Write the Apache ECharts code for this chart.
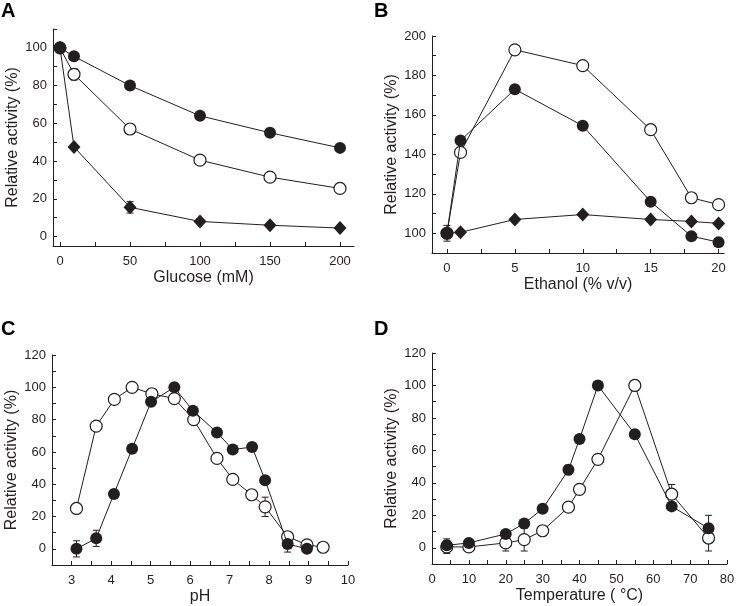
<!DOCTYPE html>
<html><head><meta charset="utf-8">
<script src="https://cdn.jsdelivr.net/npm/echarts@6/dist/echarts.min.js"></script>
<style>html,body{margin:0;padding:0;background:#fff}#c{width:742px;height:606px}</style>
</head><body><div id="c"></div>
<script>
// ---- Panel A: Glucose ----
const glucoseX = [0, 10, 50, 100, 150, 200];
const glucoseFilled = [100, 95.5, 80, 64, 55, 47];
const glucoseOpen = [100, 86, 57, 40.5, 31.5, 25.5];
const glucoseDiamond = [100, 47.5, 15.5, 8, 6, 4.5];
const glucoseOpenErr = [0, 3, 0, 0, 0, 0];
const glucoseDiamondErr = [0, 0, 3, 0, 0, 0];
const glucoseXTicks = [0, 50, 100, 150, 200];
const glucoseYTicks = [0, 20, 40, 60, 80, 100];

// ---- Panel B: Ethanol ----
const ethanolX = [0, 1, 5, 10, 15, 18, 20];
const ethanolOpen = [100, 141, 193, 185, 152.5, 118, 114.5];
const ethanolFilled = [100, 147, 173, 154.5, 116, 98.5, 95.5];
const ethanolDiamond = [100, 100.5, 107, 109.5, 107, 106, 105];
const ethanolFilledErr = [4, 0, 0, 0, 0, 0, 0];
const ethanolXTicks = [0, 5, 10, 15, 20];
const ethanolYTicks = [100, 120, 140, 160, 180, 200];

// ---- Panel C: pH ----
const phOpenX = [3.12, 3.62, 4.08, 4.53, 5.03, 5.6, 6.09, 6.68, 7.08, 7.56, 7.9, 8.47, 8.96, 9.37];
const phOpen = [25, 76, 92.5, 100, 96, 93, 80, 56, 43, 33.5, 26, 7.5, 2.5, 1];
const phOpenErr = [0, 0, 0, 0, 0, 0, 0, 0, 0, 0, 6, 0, 0, 0];
const phFilledX = [3.12, 3.62, 4.07, 4.53, 5.01, 5.6, 6.07, 6.68, 7.08, 7.57, 7.9, 8.47, 8.96];
const phFilled = [0, 6.5, 34, 62, 91, 100, 85.5, 72, 61.5, 63, 42.5, 3, 0];
const phFilledErr = [5, 5, 0, 0, 0, 0, 0, 0, 0, 0, 0, 5, 0];
const phXTicks = [3, 4, 5, 6, 7, 8, 9, 10];
const phYTicks = [0, 20, 40, 60, 80, 100, 120];

// ---- Panel D: Temperature ----
const tempX = [4, 10, 20, 25, 30, 37, 40, 45, 55, 65, 75];
const tempFilled = [1.5, 3, 8.5, 15, 24, 48, 67, 100, 70, 25.5, 12];
const tempOpen = [0.5, 0.5, 3, 5, 10.5, 25, 36, 54.5, 100, 33, 6];
const tempFilledErr = [4, 0, 0, 0, 0, 3, 0, 0, 2, 0, 8];
const tempOpenErr = [4, 0, 5, 7, 0, 0, 0, 0, 0, 6, 8];
const tempXTicks = [0, 10, 20, 30, 40, 50, 60, 70, 80];
const tempYTicks = [0, 20, 40, 60, 80, 100, 120];

const FONT = 'Liberation Sans, Arial, sans-serif';
const TXT = '#231f20';

function minorsOf(ticks, lo, hi) {
  const step = ticks[1] - ticks[0];
  const out = [];
  for (let v = ticks[0] - step / 2; v <= hi + 1e-9; v += step / 2) {
    if (v >= lo - 1e-9) out.push(+v.toFixed(6));
  }
  return out;
}

function xAxisCfg(gi, min, max, ticks, name) {
  return {
    type: 'value', gridIndex: gi, min: min, max: max,
    name: name, nameLocation: 'middle', nameGap: 24,
    nameTextStyle: {fontFamily: FONT, fontSize: 16, color: TXT},
    axisLine: {show: true, onZero: false, lineStyle: {color: '#231f20', width: 1}},
    axisTick: {show: true, inside: true, length: 4, customValues: minorsOf(ticks, min, max), lineStyle: {color: '#231f20'}},
    axisLabel: {customValues: ticks, fontFamily: FONT, fontSize: 13, color: TXT, margin: 9},
    splitLine: {show: false}
  };
}
function yAxisCfg(gi, min, max, ticks, name) {
  return {
    type: 'value', gridIndex: gi, min: min, max: max,
    name: name, nameLocation: 'middle', nameGap: 32,
    nameTextStyle: {fontFamily: FONT, fontSize: 16, color: TXT},
    axisLine: {show: true, onZero: false, lineStyle: {color: '#231f20', width: 1}},
    axisTick: {show: true, inside: true, length: 4, customValues: minorsOf(ticks, min, max), lineStyle: {color: '#231f20'}},
    axisLabel: {customValues: ticks, fontFamily: FONT, fontSize: 13, color: TXT, margin: 6},
    splitLine: {show: false}
  };
}

function zip(xs, ys) { return xs.map((x, i) => [x, ys[i]]); }
function zip3(xs, ys, es) { return xs.map((x, i) => [x, ys[i], es[i]]).filter(d => d[2] > 0); }

function lineSeries(gi, xs, ys, kind) {
  const open = kind === 'open';
  return {
    type: 'line', xAxisIndex: gi, yAxisIndex: gi,
    data: zip(xs, ys),
    symbol: kind === 'diamond' ? 'diamond' : 'circle',
    symbolSize: kind === 'diamond' ? [13, 14] : 12,
    showSymbol: true,
    lineStyle: {color: '#231f20', width: 1},
    itemStyle: {color: open ? '#ffffff' : '#231f20', borderColor: '#231f20', borderWidth: open ? 1.2 : 0, opacity: 1},
    emphasis: {disabled: true},
    z: open ? 3 : 4,
    animation: false
  };
}

function errSeries(gi, xs, ys, es) {
  return {
    type: 'custom', xAxisIndex: gi, yAxisIndex: gi,
    data: zip3(xs, ys, es),
    z: 1, animation: false, silent: true,
    renderItem: function (params, api) {
      const x = api.value(0), y = api.value(1), e = api.value(2);
      const top = api.coord([x, y + e]);
      const bot = api.coord([x, y - e]);
      const w = 3.5;
      const st = {stroke: '#231f20', lineWidth: 1};
      return {
        type: 'group',
        children: [
          {type: 'line', shape: {x1: top[0], y1: top[1], x2: bot[0], y2: bot[1]}, style: st},
          {type: 'line', shape: {x1: top[0] - w, y1: top[1], x2: top[0] + w, y2: top[1]}, style: st},
          {type: 'line', shape: {x1: bot[0] - w, y1: bot[1], x2: bot[0] + w, y2: bot[1]}, style: st}
        ]
      };
    }
  };
}

const chart = echarts.init(document.getElementById('c'), null, {renderer: 'canvas'});
const YNAME = 'Relative activity (%)';
chart.setOption({
  backgroundColor: '#ffffff',
  animation: false,
  grid: [
    {left: 53, top: 29, width: 301, height: 217},
    {left: 432, top: 36, width: 292, height: 217},
    {left: 52, top: 355, width: 296, height: 211},
    {left: 432, top: 353, width: 295, height: 211}
  ],
  xAxis: [
    xAxisCfg(0, -5, 210, glucoseXTicks, 'Glucose (mM)'),
    xAxisCfg(1, -1.1, 20.4, ethanolXTicks, 'Ethanol (% v/v)'),
    xAxisCfg(2, 2.5, 10, phXTicks, 'pH'),
    xAxisCfg(3, 0, 80, tempXTicks, 'Temperature ( °C)')
  ],
  yAxis: [
    yAxisCfg(0, -5, 110, glucoseYTicks, YNAME),
    yAxisCfg(1, 90, 200, ethanolYTicks, YNAME),
    yAxisCfg(2, -10, 120, phYTicks, YNAME),
    yAxisCfg(3, -10, 120, tempYTicks, YNAME)
  ],
  graphic: [
    {type: 'text', left: 1, top: 1, style: {text: 'A', font: 'bold 20px ' + FONT, fill: '#000'}},
    {type: 'text', left: 374, top: 1, style: {text: 'B', font: 'bold 20px ' + FONT, fill: '#000'}},
    {type: 'text', left: 1, top: 319, style: {text: 'C', font: 'bold 20px ' + FONT, fill: '#000'}},
    {type: 'text', left: 374, top: 319, style: {text: 'D', font: 'bold 20px ' + FONT, fill: '#000'}}
  ],
  series: [
    errSeries(0, glucoseX, glucoseOpen, glucoseOpenErr),
    errSeries(0, glucoseX, glucoseDiamond, glucoseDiamondErr),
    lineSeries(0, glucoseX, glucoseDiamond, 'diamond'),
    lineSeries(0, glucoseX, glucoseOpen, 'open'),
    lineSeries(0, glucoseX, glucoseFilled, 'filled'),

    errSeries(1, ethanolX, ethanolFilled, ethanolFilledErr),
    lineSeries(1, ethanolX, ethanolDiamond, 'diamond'),
    lineSeries(1, ethanolX, ethanolOpen, 'open'),
    lineSeries(1, ethanolX, ethanolFilled, 'filled'),

    errSeries(2, phOpenX, phOpen, phOpenErr),
    errSeries(2, phFilledX, phFilled, phFilledErr),
    lineSeries(2, phOpenX, phOpen, 'open'),
    lineSeries(2, phFilledX, phFilled, 'filled'),

    errSeries(3, tempX, tempOpen, tempOpenErr),
    errSeries(3, tempX, tempFilled, tempFilledErr),
    lineSeries(3, tempX, tempOpen, 'open'),
    lineSeries(3, tempX, tempFilled, 'filled')
  ]
});
</script>
</body></html>
